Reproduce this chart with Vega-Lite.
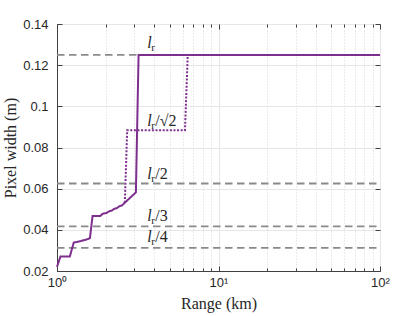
{
  "$schema": "https://vega.github.io/schema/vega-lite/v6.json",
  "width": 323,
  "height": 247,
  "autosize": {"type": "none"},
  "padding": {"left": 57, "top": 24, "right": 40, "bottom": 45},
  "background": "white",
  "config": {"view": {"stroke": "#404040", "strokeWidth": 1}, "font": "Liberation Sans"},
  "datasets": {
    "curves": [
      {"x": 1.0, "y": 0.022, "series": "solid"},
      {"x": 1.05, "y": 0.027, "series": "solid"},
      {"x": 1.2, "y": 0.027, "series": "solid"},
      {"x": 1.27, "y": 0.0338, "series": "solid"},
      {"x": 1.4, "y": 0.0345, "series": "solid"},
      {"x": 1.55, "y": 0.0355, "series": "solid"},
      {"x": 1.6, "y": 0.036, "series": "solid"},
      {"x": 1.66, "y": 0.0467, "series": "solid"},
      {"x": 1.85, "y": 0.0467, "series": "solid"},
      {"x": 1.92, "y": 0.0478, "series": "solid"},
      {"x": 2.03, "y": 0.0482, "series": "solid"},
      {"x": 2.1, "y": 0.049, "series": "solid"},
      {"x": 2.18, "y": 0.0493, "series": "solid"},
      {"x": 2.26, "y": 0.0502, "series": "solid"},
      {"x": 2.34, "y": 0.0505, "series": "solid"},
      {"x": 2.44, "y": 0.0515, "series": "solid"},
      {"x": 2.52, "y": 0.0518, "series": "solid"},
      {"x": 2.63, "y": 0.0532, "series": "solid"},
      {"x": 3.08, "y": 0.0582, "series": "solid"},
      {"x": 3.2, "y": 0.125, "series": "solid"},
      {"x": 100, "y": 0.125, "series": "solid"},
      {"x": 2.63, "y": 0.0532, "series": "dotted"},
      {"x": 2.72, "y": 0.0884, "series": "dotted"},
      {"x": 6.2, "y": 0.0884, "series": "dotted"},
      {"x": 6.45, "y": 0.125, "series": "dotted"},
      {"x": 7.0, "y": 0.125, "series": "dotted"}
    ],
    "refs": [
      {"y": 0.125, "x1": 1, "x2": 100},
      {"y": 0.0625, "x1": 1, "x2": 100},
      {"y": 0.041667, "x1": 1, "x2": 100},
      {"y": 0.03125, "x1": 1, "x2": 100}
    ],
    "labels": [
      {"x": 3.62, "y": 0.1282, "suffix": ""},
      {"x": 3.62, "y": 0.0905, "suffix": "/√2"},
      {"x": 3.62, "y": 0.0647, "suffix": "/2"},
      {"x": 3.62, "y": 0.0443, "suffix": "/3"},
      {"x": 3.62, "y": 0.0339, "suffix": "/4"}
    ]
  },
  "layer": [
    {
      "data": {"name": "refs"},
      "mark": {"type": "rule", "color": "#8a8a8a", "strokeWidth": 1.8, "strokeDash": [7.5, 4.5]},
      "encoding": {
        "x": {
          "field": "x1", "type": "quantitative",
          "scale": {"type": "log", "domain": [1, 100], "nice": false},
          "axis": {
            "orient": "bottom",
            "values": [1, 2, 3, 4, 5, 6, 7, 8, 9, 10, 20, 30, 40, 50, 60, 70, 80, 90, 100],
            "labelExpr": "datum.value == 1 ? '10⁰' : datum.value == 10 ? '10¹' : datum.value == 100 ? '10²' : ''",
            "labelFont": "Liberation Sans", "labelFontSize": 13, "labelColor": "#262626",
            "labelPadding": 10, "labelFlush": false, "labelOverlap": false,
            "tickSize": {"condition": {"test": "datum.value == 1 || datum.value == 10 || datum.value == 100", "value": -5}, "value": -3},
            "tickColor": "#404040",
            "grid": true,
            "gridColor": {"condition": {"test": "datum.value == 1 || datum.value == 10 || datum.value == 100", "value": "#e6e6e6"}, "value": "#d6d6d6"},
            "gridDash": {"condition": {"test": "datum.value == 1 || datum.value == 10 || datum.value == 100", "value": []}, "value": [1, 2]},
            "domainColor": "#404040",
            "title": "Range (km)", "titleFont": "Liberation Serif", "titleFontSize": 16,
            "titleFontWeight": "normal", "titleColor": "#262626", "titlePadding": 4
          }
        },
        "x2": {"field": "x2"},
        "y": {
          "field": "y", "type": "quantitative",
          "scale": {"domain": [0.02, 0.14], "nice": false, "zero": false},
          "axis": {
            "orient": "left",
            "values": [0.02, 0.04, 0.06, 0.08, 0.1, 0.12, 0.14],
            "format": "~g",
            "labelFont": "Liberation Sans", "labelFontSize": 13, "labelColor": "#262626",
            "labelPadding": 14, "labelFlush": false, "labelOverlap": false,
            "tickSize": -5, "tickColor": "#404040",
            "grid": true, "gridColor": "#e6e6e6",
            "domainColor": "#404040",
            "title": "Pixel width (m)", "titleFont": "Liberation Serif", "titleFontSize": 16,
            "titleFontWeight": "normal", "titleColor": "#262626", "titlePadding": 4
          }
        }
      }
    },
    {
      "data": {"name": "curves"},
      "mark": {"type": "line", "color": "#7E2F8E", "strokeWidth": 2},
      "encoding": {
        "x": {"field": "x", "type": "quantitative", "axis": null},
        "y": {"field": "y", "type": "quantitative", "axis": null},
        "strokeDash": {
          "field": "series", "type": "nominal",
          "scale": {"domain": ["solid", "dotted"], "range": [[1, 0], [2, 1.6]]},
          "legend": null
        }
      }
    },
    {
      "data": {"name": "labels"},
      "mark": {"type": "text", "text": "l", "font": "Liberation Serif", "fontStyle": "italic", "fontSize": 16, "align": "left", "baseline": "alphabetic", "color": "#262626"},
      "encoding": {
        "x": {"field": "x", "type": "quantitative", "axis": null},
        "y": {"field": "y", "type": "quantitative", "axis": null}
      }
    },
    {
      "data": {"name": "labels"},
      "mark": {"type": "text", "text": "r", "font": "Liberation Serif", "fontSize": 11, "align": "left", "baseline": "alphabetic", "dx": 4, "dy": 3, "color": "#262626"},
      "encoding": {
        "x": {"field": "x", "type": "quantitative", "axis": null},
        "y": {"field": "y", "type": "quantitative", "axis": null}
      }
    },
    {
      "data": {"name": "labels"},
      "mark": {"type": "text", "font": "Liberation Serif", "fontSize": 16, "align": "left", "baseline": "alphabetic", "dx": 8, "color": "#262626"},
      "encoding": {
        "x": {"field": "x", "type": "quantitative", "axis": null},
        "y": {"field": "y", "type": "quantitative", "axis": null},
        "text": {"field": "suffix"}
      }
    },
    {
      "data": {"name": "refs"},
      "mark": {"type": "point", "opacity": 0},
      "encoding": {
        "x": {
          "field": "x1", "type": "quantitative",
          "axis": {
            "orient": "top",
            "values": [1, 2, 3, 4, 5, 6, 7, 8, 9, 10, 20, 30, 40, 50, 60, 70, 80, 90, 100],
            "labels": false, "grid": false, "domain": false, "title": null,
            "tickSize": {"condition": {"test": "datum.value == 1 || datum.value == 10 || datum.value == 100", "value": -5}, "value": -3},
            "tickColor": "#404040"
          }
        },
        "y": {
          "field": "y", "type": "quantitative",
          "axis": {
            "orient": "right",
            "values": [0.02, 0.04, 0.06, 0.08, 0.1, 0.12, 0.14],
            "labels": false, "grid": false, "domain": false, "title": null,
            "tickSize": -5, "tickColor": "#404040"
          }
        }
      }
    }
  ],
  "resolve": {"axis": {"x": "independent", "y": "independent"}}
}
